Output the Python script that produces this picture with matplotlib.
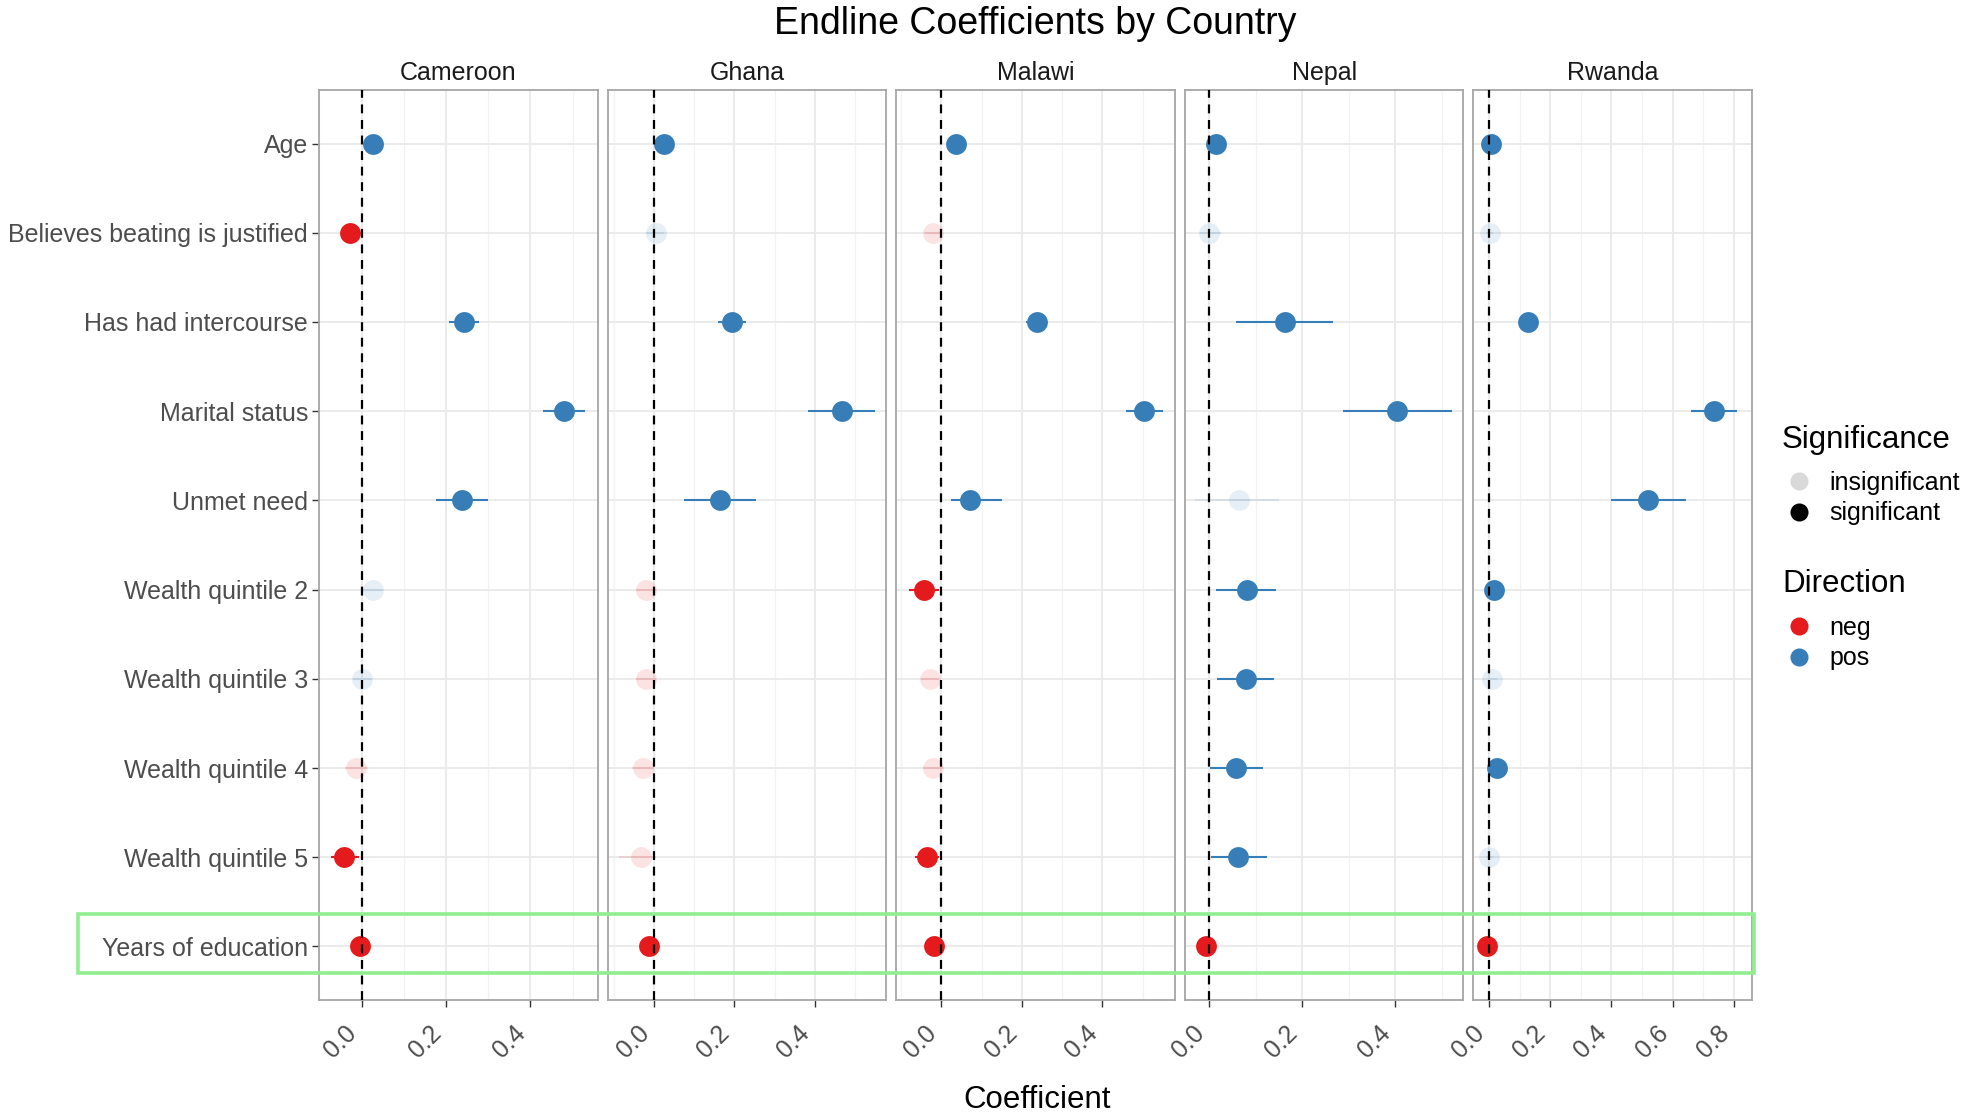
import numpy as np
import matplotlib.pyplot as plt
from matplotlib.lines import Line2D
from matplotlib.patches import Rectangle
from matplotlib.ticker import MultipleLocator, FormatStrFormatter

plt.rcParams['font.family'] = ['Liberation Sans', 'DejaVu Sans']

#%% DATA
countries = ['Cameroon', 'Ghana', 'Malawi', 'Nepal', 'Rwanda']
variables = ['Age', 'Believes beating is justified', 'Has had intercourse',
             'Marital status', 'Unmet need', 'Wealth quintile 2',
             'Wealth quintile 3', 'Wealth quintile 4', 'Wealth quintile 5',
             'Years of education']

coef_cameroon = [0.026, -0.028, 0.242, 0.480, 0.238, 0.026, 0.002, -0.013, -0.041, -0.005]
lo_cameroon = [0.018, -0.036, 0.208, 0.430, 0.177, 0.002, -0.020, -0.040, -0.073, -0.012]
hi_cameroon = [0.034, -0.020, 0.279, 0.530, 0.300, 0.050, 0.025, 0.015, -0.006, 0.002]
sig_cameroon = [1, 1, 1, 1, 1, 0, 0, 0, 1, 1]

coef_ghana = [0.025, 0.003, 0.194, 0.468, 0.164, -0.021, -0.021, -0.029, -0.033, -0.013]
lo_ghana = [0.015, -0.020, 0.158, 0.383, 0.075, -0.045, -0.045, -0.055, -0.088, -0.020]
hi_ghana = [0.035, 0.025, 0.229, 0.550, 0.254, 0.005, 0.005, 0.000, 0.005, -0.005]
sig_ghana = [1, 0, 1, 1, 1, 0, 0, 0, 0, 1]

coef_malawi = [0.036, -0.020, 0.237, 0.504, 0.071, -0.043, -0.028, -0.020, -0.035, -0.017]
lo_malawi = [0.028, -0.040, 0.210, 0.460, 0.023, -0.080, -0.050, -0.045, -0.065, -0.025]
hi_malawi = [0.044, 0.000, 0.262, 0.550, 0.152, -0.005, -0.005, 0.005, -0.005, -0.008]
sig_malawi = [1, 0, 1, 1, 1, 1, 0, 0, 1, 1]

coef_nepal = [0.014, 0.001, 0.163, 0.404, 0.064, 0.082, 0.079, 0.059, 0.0625, -0.007]
lo_nepal = [0.005, -0.020, 0.059, 0.289, -0.030, 0.016, 0.018, 0.0015, 0.005, -0.015]
hi_nepal = [0.023, 0.025, 0.267, 0.522, 0.150, 0.145, 0.140, 0.116, 0.125, 0.000]
sig_nepal = [1, 0, 1, 1, 0, 1, 1, 1, 1, 1]

coef_rwanda = [0.005, 0.002, 0.126, 0.735, 0.520, 0.017, 0.011, 0.027, 0.001, -0.0055]
lo_rwanda = [-0.003, -0.010, 0.110, 0.660, 0.400, 0.005, -0.005, 0.015, -0.010, -0.012]
hi_rwanda = [0.013, 0.012, 0.142, 0.810, 0.645, 0.030, 0.027, 0.040, 0.012, 0.001]
sig_rwanda = [1, 0, 1, 1, 1, 1, 0, 1, 0, 1]

coefs = [coef_cameroon, coef_ghana, coef_malawi, coef_nepal, coef_rwanda]
los = [lo_cameroon, lo_ghana, lo_malawi, lo_nepal, lo_rwanda]
his = [hi_cameroon, hi_ghana, hi_malawi, hi_nepal, hi_rwanda]
sigs = [sig_cameroon, sig_ghana, sig_malawi, sig_nepal, sig_rwanda]

# panel x ranges (free x scales)
xlims = [(-0.101, 0.559), (-0.117, 0.579), (-0.112, 0.580), (-0.052, 0.547), (-0.051, 0.859)]

RED = '#E41A1C'
BLUE = '#377EB8'
ALPHA_INSIG = 0.12
BASE = 22.5

#%% PLOT
fig, axes = plt.subplots(1, 5, figsize=(19.64, 11.16), dpi=100, sharey=True)
fig.subplots_adjust(left=319/1964, right=1752/1964, top=1-90/1116, bottom=1-1000/1116, wspace=0.036)

ypos = np.arange(len(variables))[::-1]

for k, ax in enumerate(axes):
    c = np.array(coefs[k])
    lo = np.array(los[k])
    hi = np.array(his[k])
    s = np.array(sigs[k])
    for i in range(len(variables)):
        col = RED if c[i] < 0 else BLUE
        a = 1.0 if s[i] else ALPHA_INSIG
        ax.hlines(ypos[i], lo[i], hi[i], color=col, alpha=a, lw=1.5, zorder=3)
        ax.plot(c[i], ypos[i], 'o', color=col, alpha=a, markersize=15, markeredgewidth=0, zorder=4)
    ax.axvline(0, color='black', ls=(0, (4, 3)), lw=1.6, zorder=5)

    ax.set_xlim(*xlims[k])
    ax.set_ylim(-0.6, len(variables) - 0.4)
    ax.xaxis.set_major_locator(MultipleLocator(0.2))
    ax.xaxis.set_minor_locator(MultipleLocator(0.1))
    ax.xaxis.set_major_formatter(FormatStrFormatter('%.1f'))
    ax.grid(which='major', color='#EBEBEB', lw=1.4, zorder=0)
    ax.grid(which='minor', axis='x', color='#F2F2F2', lw=0.9, zorder=0)
    ax.set_axisbelow(True)
    for sp in ax.spines.values():
        sp.set_color('#A6A6A6')
        sp.set_linewidth(1.3)
    ax.tick_params(axis='x', which='major', length=5, width=1, color='#333333',
                   labelsize=BASE*0.8, labelcolor='#4D4D4D', pad=10)
    ax.tick_params(axis='x', which='minor', length=0)
    for lab in ax.get_xticklabels():
        lab.set_rotation(45)
        lab.set_ha('right')
        lab.set_va('top')
    ax.set_title(countries[k], fontsize=BASE*0.8, color='#1A1A1A', pad=7)
    if k == 0:
        ax.set_yticks(ypos)
        ax.set_yticklabels(variables)
        ax.tick_params(axis='y', length=5, width=1, color='#333333',
                       labelsize=BASE*0.8, labelcolor='#4D4D4D', pad=3)
    else:
        ax.tick_params(axis='y', length=0)

fig.suptitle('Endline Coefficients by Country', fontsize=BASE*1.2, x=1035/1964, y=1-23.5/1116, va='center')
fig.text(1037/1964, 1-1100/1116, 'Coefficient', fontsize=BASE, ha='center', va='center')

# highlight box round the last row
fig.patches.append(Rectangle((78/1964, 1-973/1116), (1754-78)/1964, (973-914)/1116,
                             transform=fig.transFigure, fill=False,
                             edgecolor='#90EE90', lw=2.6, zorder=10))

# legends
fig.text(1782/1964, 1-440/1116, 'Significance', fontsize=BASE, ha='left', va='center')
fig.text(1782/1964, 1-584/1116, 'Direction', fontsize=BASE, ha='left', va='center')

sig_handles = [Line2D([], [], marker='o', ls='none', color='black', alpha=0.15, markersize=13, markeredgewidth=0),
               Line2D([], [], marker='o', ls='none', color='black', markersize=13, markeredgewidth=0)]
dir_handles = [Line2D([], [], marker='o', ls='none', color=RED, markersize=13, markeredgewidth=0),
               Line2D([], [], marker='o', ls='none', color=BLUE, markersize=13, markeredgewidth=0)]
leg_kw = dict(loc='upper left', frameon=False, fontsize=BASE*0.8,
              handlelength=1.0, handletextpad=0.75, labelspacing=0.25, borderpad=0, borderaxespad=0)
fig.legend(sig_handles, ['insignificant', 'significant'],
           bbox_to_anchor=(1786/1964, 1-471/1116), **leg_kw)
fig.legend(dir_handles, ['neg', 'pos'],
           bbox_to_anchor=(1786/1964, 1-616/1116), **leg_kw)

fig.savefig('out.png', dpi=100)
